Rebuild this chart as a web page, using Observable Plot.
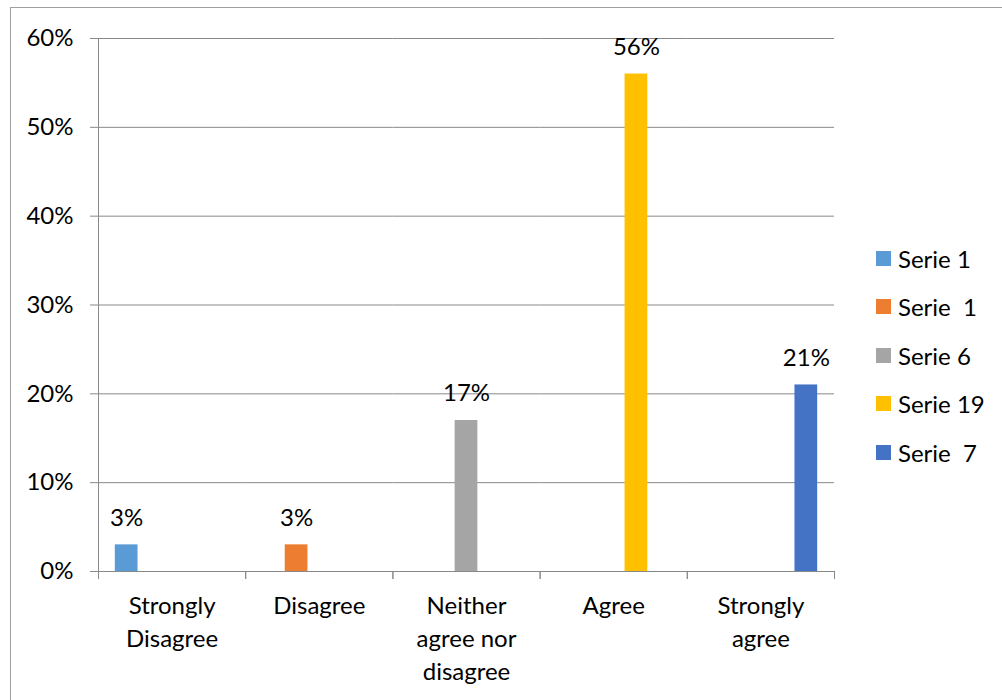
<!DOCTYPE html>
<html>
<head>
<meta charset="utf-8">
<script src="https://cdn.jsdelivr.net/npm/d3@7"></script>
<script src="https://cdn.jsdelivr.net/npm/@observablehq/plot@0.6"></script>
<style>
  html, body { margin: 0; padding: 0; background: #fff; }
  #wrap { position: relative; width: 1002px; height: 700px; overflow: hidden; font-family: Lato, sans-serif; }
  #border { position: absolute; left: 10px; top: 7px; width: 1010px; height: 710px; border: 1px solid #a0a0a0; box-sizing: border-box; pointer-events: none; }
  #chart { position: absolute; left: 0; top: 0; }
  #legend { position: absolute; left: 876px; top: 0; }
  .item { position: absolute; left: 0; height: 26px; display: flex; align-items: center; white-space: pre; font-size: 24px; color: #000; }
  .sw { width: 15px; height: 15px; margin-right: 7px; flex: none; }
</style>
</head>
<body>
<div id="wrap">
  <div id="chart"></div>
  <div id="legend"></div>
  <div id="border"></div>
</div>
<script>
const categories = ["Strongly\nDisagree", "Disagree", "Neither\nagree nor\ndisagree", "Agree", "Strongly\nagree"];
const seriesNames = ["Serie 1", "Serie  1", "Serie 6", "Serie 19", "Serie  7"];
const seriesColors = ["#5B9BD5", "#ED7D31", "#A5A5A5", "#FFC000", "#4472C4"];
const values = [0.03, 0.03, 0.17, 0.56, 0.21];
const yTicks = [0, 0.1, 0.2, 0.3, 0.4, 0.5, 0.6];

const data = seriesNames.map((s, i) => ({category: categories[i], series: s, value: values[i]}));

const W = 1002, H = 700, mL = 98, mR = 168, mT = 38, mB = 129;
const bw = (W - mL - mR) / categories.length;
const gray = "#898989";
const pct = d => Math.round(d * 100) + "%";

const plot = Plot.plot({
  width: W, height: H,
  marginLeft: mL, marginRight: mR, marginTop: mT, marginBottom: mB,
  style: {fontFamily: "Lato, sans-serif", fontSize: "24px", color: "#000", background: "transparent", overflow: "visible"},
  fx: {domain: categories, padding: 0, round: false, axis: null, label: null},
  x: {domain: seriesNames, paddingInner: 0, paddingOuter: 0.74, round: false, axis: null, label: null},
  y: {domain: [0, 0.6], axis: null, label: null},
  color: {domain: seriesNames, range: seriesColors},
  marks: [
    Plot.gridY(yTicks, {stroke: gray, strokeOpacity: 1, strokeWidth: 1}),
    Plot.axisY(yTicks, {anchor: "left", tickSize: 8, tickPadding: 17, tickFormat: pct, stroke: gray, fontSize: 24, label: null}),
    Plot.frame({anchor: "left", facetAnchor: "left", stroke: gray}),
    Plot.barY(data, {fx: "category", x: "series", y: "value", fill: "series"}),
    Plot.text(data, {fx: "category", x: "series", y: "value", text: d => pct(d.value), dy: -19, lineAnchor: "bottom", fontSize: 24, fill: "#000"}),
    Plot.ruleY([0], {stroke: gray}),
    Plot.axisFx({anchor: "bottom", tickSize: 8, text: null, dx: -bw / 2, stroke: gray, label: null}),
    Plot.axisFx({anchor: "bottom", tickSize: 8, text: null, dx: bw / 2, stroke: gray, label: null}),
    Plot.axisFx({anchor: "bottom", tickSize: 0, tickPadding: 19, lineHeight: 1.375, fontSize: 24, label: null})
  ]
});
document.getElementById("chart").appendChild(plot);

const legend = d3.select("#legend");
seriesNames.forEach((s, i) => {
  const item = legend.append("div").attr("class", "item").style("top", (258 + i * 48.5 - 13) + "px");
  item.append("div").attr("class", "sw").style("background", seriesColors[i]);
  item.append("span").text(s);
});
</script>
</body>
</html>
